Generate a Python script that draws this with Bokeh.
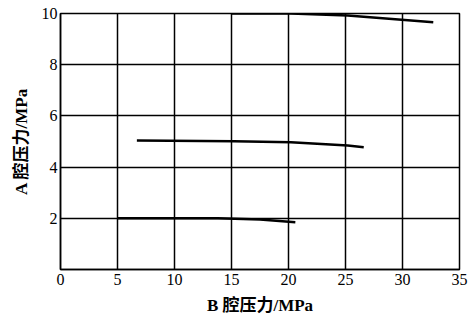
from bokeh.plotting import figure
from bokeh.models import FixedTicker, Range1d
from bokeh.embed import file_html
from bokeh.resources import INLINE

# Data
b10 = [15.0, 20.2, 25.2, 32.7]
a10 = [10.0, 10.0, 9.92, 9.66]
b5 = [6.7, 15.2, 20.2, 25.2, 26.6]
a5 = [5.04, 5.01, 4.97, 4.84, 4.78]
b2 = [5.0, 13.8, 17.5, 20.6]
a2 = [2.0, 2.0, 1.95, 1.85]
x_ticks = [0, 5, 10, 15, 20, 25, 30, 35]
y_ticks = [2, 4, 6, 8, 10]

SERIF = "Liberation Serif, Noto Sans CJK SC"

p = figure(width=468, height=327, output_backend="svg", toolbar_location=None,
           x_range=Range1d(0, 35), y_range=Range1d(0, 10),
           min_border_left=60, min_border_right=9, min_border_top=13, min_border_bottom=58)

for xs, ys in [(b10, a10), (b5, a5), (b2, a2)]:
    p.line(xs, ys, line_color="black", line_width=2.5)

p.xaxis.ticker = FixedTicker(ticks=x_ticks)
p.yaxis.ticker = FixedTicker(ticks=y_ticks)
for ax in (p.xaxis, p.yaxis):
    ax.major_tick_out = 0
    ax.major_tick_in = 0
    ax.minor_tick_out = 0
    ax.minor_tick_in = 0
    ax.axis_line_color = "black"
    ax.axis_line_width = 1.5
    ax.major_label_text_font = SERIF
    ax.major_label_text_font_size = "16px"
    ax.major_label_text_color = "black"
    ax.axis_label_text_font = SERIF
    ax.axis_label_text_font_style = "bold"
    ax.axis_label_text_font_size = "17px"
    ax.axis_label_text_color = "black"

p.xaxis.major_label_standoff = 4
p.yaxis.major_label_standoff = 3
p.xaxis.axis_label = "B 腔压力/MPa"
p.xaxis.axis_label_standoff = 8
p.yaxis.axis_label = "A 腔压力/MPa"
p.yaxis.axis_label_standoff = 8

p.grid.grid_line_color = "black"
p.grid.grid_line_width = 1.5
p.grid.grid_line_alpha = 1.0
p.outline_line_color = "black"
p.outline_line_width = 1.5
p.background_fill_color = "white"

open("out.html", "w").write(file_html(p, INLINE))
